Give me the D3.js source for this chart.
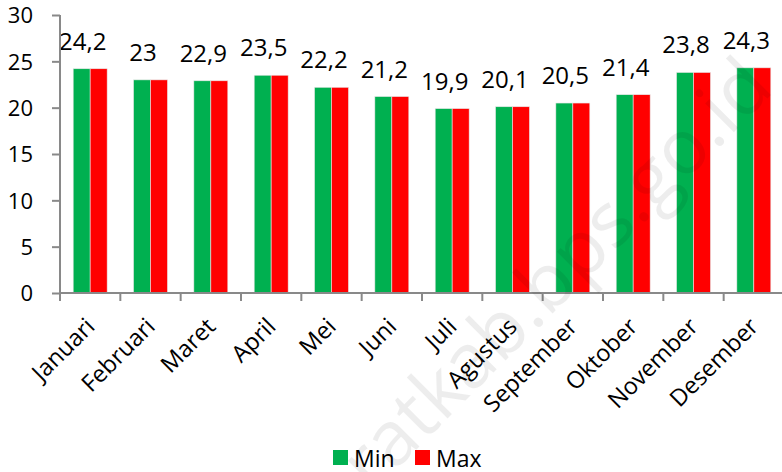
<!DOCTYPE html>
<html><head><meta charset="utf-8">
<script src="https://cdn.jsdelivr.net/npm/d3@7"></script>
<style>body{margin:0;background:#fff}svg{display:block}text{font-family:"Open Sans",sans-serif;fill:#000}</style>
</head><body>
<script>
const months = ["Januari","Februari","Maret","April","Mei","Juni","Juli","Agustus","September","Oktober","November","Desember"];
const minValues = [24.2,23,22.9,23.5,22.2,21.2,19.9,20.1,20.5,21.4,23.8,24.3];
const maxValues = [24.2,23,22.9,23.5,22.2,21.2,19.9,20.1,20.5,21.4,23.8,24.3];
const seriesNames = ["Min","Max"];
const seriesColors = ["#00B050","#FF0000"];
const yTicks = [0,5,10,15,20,25,30];

const W = 782, H = 472;
const svg = d3.select("body").append("svg").attr("width",W).attr("height",H);

const x = d3.scaleBand().domain(months).range([60,784]).padding(0);
const xi = d3.scaleBand().domain(seriesNames).range([0,x.bandwidth()]).paddingInner(0).paddingOuter(0.776);
const y = d3.scaleLinear().domain([0,30]).range([293,15]);
const axisColor = "#898989";

// bars
const data = months.map((m,i)=>({m, vals:[minValues[i],maxValues[i]]}));
const g = svg.append("g");
data.forEach(d=>{
  d.vals.forEach((v,j)=>{
    g.append("rect")
      .attr("x", x(d.m)+xi(seriesNames[j]))
      .attr("y", y(v))
      .attr("width", xi.bandwidth())
      .attr("height", y(0)-y(v))
      .attr("fill", seriesColors[j])
      .attr("stroke","#e8e8e8").attr("stroke-width",0.6);
  });
  g.append("text")
    .attr("x", x(d.m)+xi("Min")+xi.bandwidth()/2+1)
    .attr("y", y(d.vals[0])-19)
    .attr("text-anchor","middle")
    .attr("font-size",24)
    .text(String(d.vals[0]).replace(".",","));
});

// y axis
const ya = svg.append("g").attr("transform","translate(60,0)")
  .call(d3.axisLeft(y).tickValues(yTicks).tickSize(8).tickPadding(19));
ya.select(".domain").attr("stroke",axisColor).attr("stroke-width",2).attr("d","M0,15V293");
ya.selectAll(".tick line").attr("stroke",axisColor).attr("stroke-width",2);
ya.selectAll(".tick text").attr("font-size",22).attr("font-family","Open Sans").attr("fill","#000").attr("dy","0.36em");

// x axis
const xa = svg.append("g").attr("transform","translate(0,293)");
xa.append("line").attr("x1",60).attr("x2",784).attr("stroke",axisColor).attr("stroke-width",2);
const bounds = months.map(m=>x(m)).concat([x.range()[1]]);
xa.selectAll("line.tk").data(bounds).enter().append("line").attr("class","tk")
  .attr("x1",d=>d).attr("x2",d=>d).attr("y1",0).attr("y2",8)
  .attr("stroke",axisColor).attr("stroke-width",2);
xa.selectAll("text").data(months).enter().append("text")
  .attr("transform",d=>`translate(${x(d)+x.bandwidth()/2+6},${35}) rotate(-45)`)
  .attr("text-anchor","end")
  .attr("font-size",23.5)
  .text(d=>d);

// legend
const leg = svg.append("g");
const legItems = [{n:"Min",c:seriesColors[0],x:333},{n:"Max",c:seriesColors[1],x:415}];
legItems.forEach(it=>{
  leg.append("rect").attr("x",it.x).attr("y",450).attr("width",15).attr("height",15).attr("fill",it.c);
  leg.append("text").attr("x",it.x+21).attr("y",467).attr("font-size",23).text(it.n);
});

// watermark
svg.append("text")
  .attr("transform","translate(372,494) rotate(-45)")
  .attr("font-size",76)
  .style("fill","rgba(0,0,0,0.07)")
  .text("ratkab.bps.go.id");
</script>
</body></html>
